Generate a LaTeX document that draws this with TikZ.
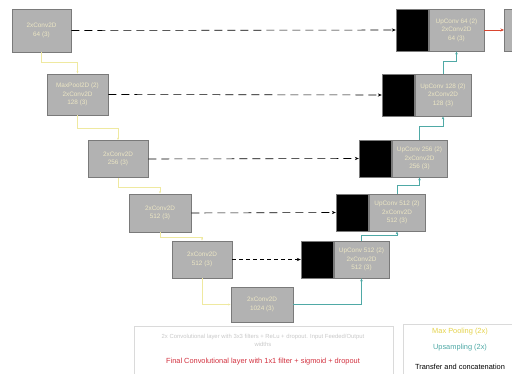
\documentclass[tikz,border=0pt]{standalone}
\usepackage{fontspec}
\setmainfont{Liberation Sans}
\usetikzlibrary{arrows.meta}
\definecolor{boxgray}{HTML}{B2B2B2}
\definecolor{boxedge}{HTML}{7A7A7A}
\definecolor{boxtext}{HTML}{ECE6C4}
\definecolor{poolc}{HTML}{EFE9A0}
\definecolor{upc}{HTML}{4FA9A6}
\definecolor{outc}{HTML}{D9452F}
\definecolor{legedge}{HTML}{DADADA}
\definecolor{legtext}{HTML}{C8C8C8}
\definecolor{finalc}{HTML}{D2303E}
\definecolor{poollab}{HTML}{E4D24A}
\begin{document}
\begin{tikzpicture}[x=1pt,y=-1pt,
  conv/.style={draw=boxedge, fill=boxgray, line width=0.8pt, inner sep=0pt,
    align=center, text=boxtext, font=\fontsize{6.4}{8.6}\selectfont},
  concat/.style={draw=boxedge, fill=black, line width=0.8pt, inner sep=0pt,
    minimum width=32pt},
  skipline/.style={draw=black, line width=0.6pt, dash pattern=on 8pt off 5pt,
    -{Stealth[length=4pt,width=3.2pt]}},
  poolline/.style={draw=poolc, line width=0.6pt, -{Stealth[length=2.5pt,width=2pt]}},
  upline/.style={draw=upc, line width=0.7pt, -{Stealth[length=3pt,width=2.6pt]}},
  legtxt/.style={font=\fontsize{7.4}{9}\selectfont, inner sep=0pt, align=center}]
\useasboundingbox (0,0) rectangle (512,374);

% contracting path
\node[conv, minimum width=59pt, minimum height=43pt] (e1) at (41.5,30.5) {2xConv2D\\64 (3)};
\node[conv, minimum width=61pt, minimum height=41pt] (e2) at (77.5,94.5) {MaxPool2D (2)\\2xConv2D\\128 (3)};
\node[conv, minimum width=60pt, minimum height=37pt] (e3) at (118,159) {2xConv2D\\256 (3)};
\node[conv, minimum width=62pt, minimum height=38pt] (e4) at (160,213) {2xConv2D\\512 (3)};
\node[conv, minimum width=60pt, minimum height=37pt] (e5) at (202,259.5) {2xConv2D\\512 (3)};
\node[conv, minimum width=62pt, minimum height=35pt] (bt) at (262,304.5) {2xConv2D\\1024 (3)};

% expanding path: concatenated block + convolutions
\node[conv, minimum width=55pt, minimum height=42pt] (d1g) at (456.5,30) {UpConv 64 (2)\\2xConv2D\\64 (3)};
\node[concat, minimum height=42pt, anchor=east] (d1b) at (d1g.west) {};
\node[conv, minimum width=56pt, minimum height=42pt] (d2g) at (443,95) {UpConv 128 (2)\\2xConv2D\\128 (3)};
\node[concat, minimum height=42pt, anchor=east] (d2b) at (d2g.west) {};
\node[conv, minimum width=55pt, minimum height=37pt] (d3g) at (419.5,158.5) {UpConv 256 (2)\\2xConv2D\\256 (3)};
\node[concat, minimum height=37pt, anchor=east] (d3b) at (d3g.west) {};
\node[conv, minimum width=56pt, minimum height=37pt] (d4g) at (397,212.5) {UpConv 512 (2)\\2xConv2D\\512 (3)};
\node[concat, minimum height=37pt, anchor=east] (d4b) at (d4g.west) {};
\node[conv, minimum width=55pt, minimum height=37pt] (d5g) at (361.5,259.5) {UpConv 512 (2)\\2xConv2D\\512 (3)};
\node[concat, minimum height=37pt, anchor=east] (d5b) at (d5g.west) {};

% output layer
\node[conv, minimum width=32pt, minimum height=42pt, anchor=west] (out) at (504,30) {};
\draw[draw=outc, line width=0.7pt, -{Stealth[length=3.5pt,width=3pt]}] (d1g.east) -- (out.west);

% skip connections
\draw[skipline] (e1.east) -- (d1b.west);
\draw[skipline] (e2.east) -- (d2b.west);
\draw[skipline] (e3.east) -- (d3b.west);
\draw[skipline] (e4.east) -- (d4b.west);
\draw[skipline, dash pattern=on 4pt off 3pt] (e5.east) -- (d5b.west);

% max pooling
\draw[poolline] (e1.south) -- ++(0,10) -| (e2.north);
\draw[poolline] (e2.south) -- ++(0,13) -| (e3.north);
\draw[poolline] (e3.south) -- ++(0,9) -| (e4.north);
\draw[poolline] (e4.south) -- ++(0,5) -| (e5.north);
\draw[poolline] (e5.south) |- (bt.west);

% upsampling
\draw[upline] (bt.east) -| (d5g.south);
\draw[upline] (d5g.north) -- ++(0,-5) -| (d4g.south);
\draw[upline] (d4g.north) -- ++(0,-8) -| (d3g.south);
\draw[upline] (d3g.north) -- ++(0,-13) -| (d2g.south);
\draw[upline] (d2g.north) -- ++(0,-12) -| (d1g.south);

% legends
\draw[draw=legedge, line width=0.6pt] (134,326) rectangle (393,376);
\node[legtxt, text=legtext, font=\fontsize{5.9}{8}\selectfont] (l1) at (263,340) {2x Convolutional layer with 3x3 filters + ReLu + dropout. Input Feeded/Output\\widths};
\node[legtxt, text=finalc] (l2) at (263,362) {Final Convolutional layer with 1x1 filter + sigmoid + dropout};
\draw[draw=legedge, line width=0.6pt] (403,324) rectangle (516,378);
\node[legtxt, text=poollab] (l3) at (460,332) {Max Pooling (2x)};
\node[legtxt, text=upc] (l4) at (460,348) {Upsampling (2x)};
\node[legtxt, text=black] (l5) at (460,367) {Transfer and concatenation};
\end{tikzpicture}
\end{document}
